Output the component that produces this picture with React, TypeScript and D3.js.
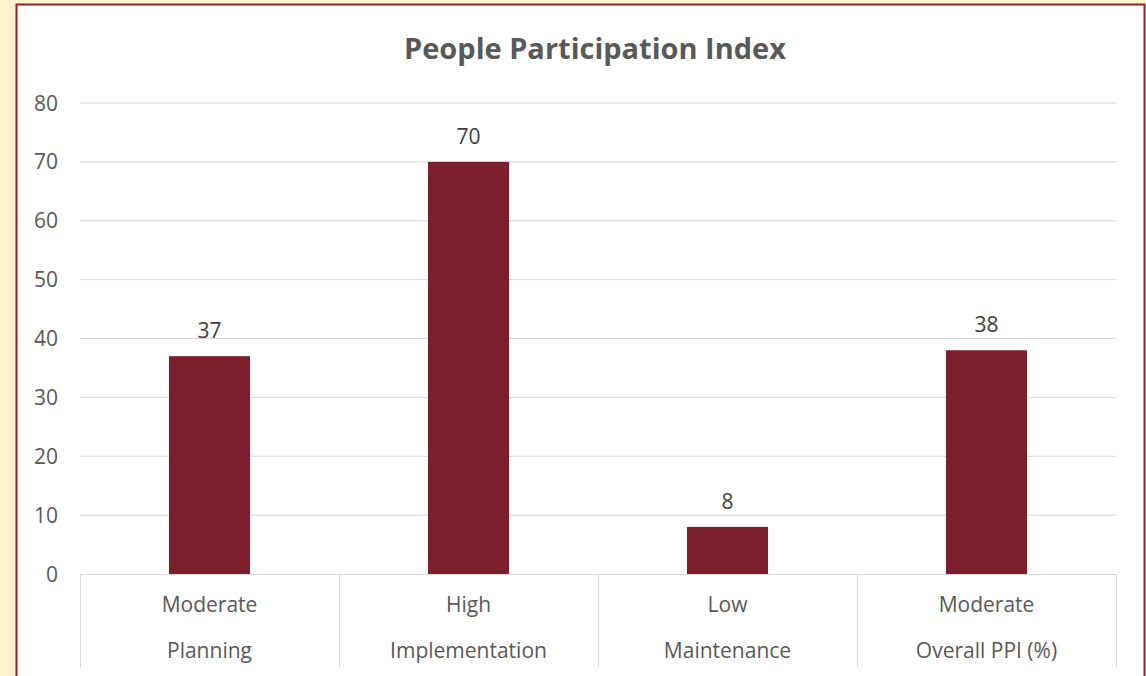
import React from "react";
import * as d3 from "d3";

const categories = ["Planning", "Implementation", "Maintenance", "Overall PPI (%)"];
const levels = ["Moderate", "High", "Low", "Moderate"];
const values = [37, 70, 8, 38];
const yTicks = [0, 10, 20, 30, 40, 50, 60, 70, 80];

const W = 1146;
const H = 676;
const plot = { left: 80, right: 1116, top: 103, bottom: 574 };
const FONT = "'Open Sans', sans-serif";

export default function App() {
  const x = d3
    .scaleBand<string>()
    .domain(categories)
    .range([plot.left, plot.right])
    .paddingInner(0)
    .paddingOuter(0);
  const y = d3.scaleLinear().domain([0, 80]).range([plot.bottom, plot.top]);
  const barW = x.bandwidth() * 0.313;

  return (
    <svg
      width={W}
      height={H}
      style={{ position: "absolute", left: 0, top: 0, display: "block" }}
      fontFamily={FONT}
    >
      <rect x={0} y={0} width={W} height={H} fill="#FFF2CC" />
      <rect x={16.5} y={4.5} width={1128} height={H + 20} fill="#FFFFFF" stroke="#8B2232" strokeWidth={2} />

      <text x={595} y={59} textAnchor="middle" fontSize={29} fontWeight={700} fill="#595959">
        People Participation Index
      </text>

      {yTicks.map((t) => (
        <g key={t}>
          {t > 0 && (
            <line x1={plot.left} x2={plot.right} y1={y(t)} y2={y(t)} stroke="#D9D9D9" strokeWidth={1} />
          )}
          <text x={58} y={y(t) + 7.5} textAnchor="end" fontSize={21} fill="#595959">
            {t}
          </text>
        </g>
      ))}

      {categories.map((c, i) => {
        const cx = (x(c) as number) + x.bandwidth() / 2;
        return (
          <g key={c}>
            <rect x={cx - barW / 2} y={y(values[i])} width={barW} height={y(0) - y(values[i])} fill="#7B1F2D" />
            <text x={cx} y={y(values[i]) - 18} textAnchor="middle" fontSize={21} fill="#404040">
              {values[i]}
            </text>
            <text x={cx} y={612} textAnchor="middle" fontSize={21} fill="#595959">
              {levels[i]}
            </text>
            <text x={cx} y={658} textAnchor="middle" fontSize={21} fill="#595959">
              {c}
            </text>
          </g>
        );
      })}

      <line x1={plot.left} x2={plot.right} y1={plot.bottom + 0.5} y2={plot.bottom + 0.5} stroke="#D9D9D9" strokeWidth={1} />
      {[...categories.map((c) => x(c) as number), plot.right].map((bx, i) => (
        <line key={i} x1={bx + 0.5} x2={bx + 0.5} y1={plot.bottom} y2={667} stroke="#D9D9D9" strokeWidth={1} />
      ))}
    </svg>
  );
}
